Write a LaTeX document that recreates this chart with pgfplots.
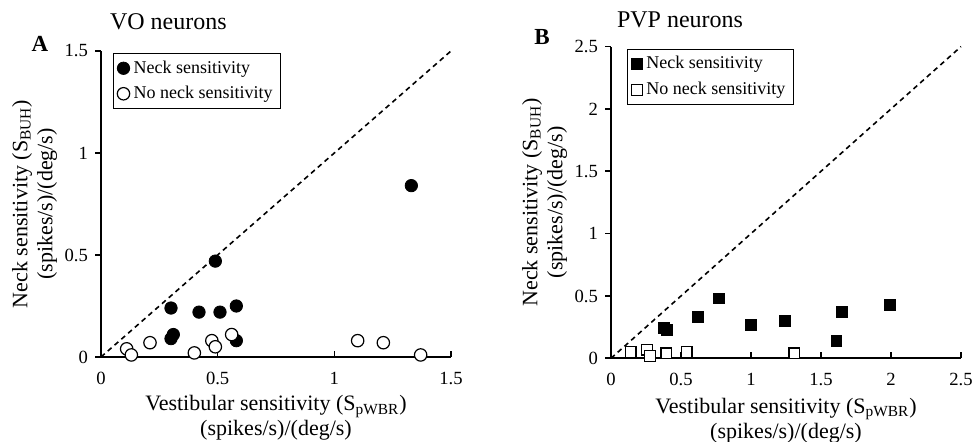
\documentclass[border=0pt]{standalone}
\usepackage{pgfplots}
\pgfplotsset{compat=1.18}
\usepackage{fontspec}
\setmainfont{Liberation Serif}
\begin{document}
\begin{tikzpicture}
\path[use as bounding box] (0,0) rectangle (487.5pt,221pt);
\pgfplotsset{
  myaxis/.style={
    scale only axis,
    axis x line*=bottom, axis y line*=left,
    axis line style={-, line width=1pt},
    tick align=outside,
    major tick length=3pt,
    tick style={black, line width=0.8pt},
    xtick style={yshift=3pt},
    /pgf/number format/assume math mode=true,
    ticklabel style={font=\fontsize{9.3}{9.3}\selectfont},
    xticklabel style={yshift=-1pt},
    clip=false,
    xlabel style={align=center, font=\fontsize{11}{12.5}\selectfont, at={(axis description cs:0.5,-0.2)}, anchor=center},
    ylabel style={align=center, font=\fontsize{11}{12.5}\selectfont, at={(axis description cs:-0.19,0.5)}, anchor=center},
    xlabel={Vestibular sensitivity (S\textsubscript{pWBR})\\(spikes/s)/(deg/s)},
    ylabel={Neck sensitivity (S\textsubscript{BUH})\\(spikes/s)/(deg/s)},
    legend style={font=\fontsize{9}{9}\selectfont, draw=black, line width=0.4pt, inner xsep=2pt, inner ysep=1.5pt, row sep=1pt, legend cell align=left},
    legend cell align=left,
  }
}
% Panel A
\begin{axis}[myaxis,
  at={(50.5pt,42.5pt)}, anchor=south west,
  width=175pt, height=153pt,
  xmin=0, xmax=1.5, ymin=0, ymax=1.5,
  xtick={0,0.5,1,1.5}, ytick={0,0.5,1,1.5},
  legend style={at={(axis description cs:0.034,0.993)}, anchor=north west},
]
\addplot[black, dash pattern=on 2.5pt off 2pt, line width=0.8pt, forget plot] coordinates {(0,0) (1.5,1.5)};
\addplot[only marks, mark=*, mark size=3.1pt, mark options={fill=black, draw=black}] coordinates {
(1.33,0.84) (0.49,0.47) (0.30,0.24) (0.42,0.22) (0.51,0.22) (0.58,0.25)
(0.30,0.09) (0.31,0.11) (0.58,0.08)
};
\addlegendentry{Neck sensitivity}
\addplot[only marks, mark=*, mark size=3.1pt, mark options={fill=white, draw=black, line width=0.6pt}] coordinates {
(0.11,0.04) (0.13,0.01) (0.21,0.07) (0.40,0.02) (0.475,0.08) (0.49,0.05)
(0.56,0.11) (1.10,0.08) (1.21,0.07) (1.37,0.01)
};
\addlegendentry{No neck sensitivity}
\end{axis}
% Panel B
\begin{axis}[myaxis,
  at={(305.5pt,41.85pt)}, anchor=south west,
  width=175pt, height=155.85pt,
  xmin=0, xmax=2.5, ymin=0, ymax=2.5,
  xtick={0,0.5,1,1.5,2,2.5}, ytick={0,0.5,1,1.5,2,2.5},
  legend style={at={(axis description cs:0.046,0.992)}, anchor=north west},
]
\addplot[black, dash pattern=on 2.5pt off 2pt, line width=0.8pt, forget plot] coordinates {(0,0) (2.5,2.5)};
\addplot[only marks, mark=square*, mark size=2.7pt, mark options={fill=black, draw=black}] coordinates {
(0.77,0.48) (0.62,0.33) (0.38,0.245) (0.40,0.23) (1.00,0.27) (1.24,0.30)
(1.61,0.14) (1.65,0.37) (1.99,0.43)
};
\addlegendentry{Neck sensitivity}
\addplot[only marks, mark=square*, mark size=2.7pt, mark options={fill=white, draw=black, line width=0.6pt}] coordinates {
(0.14,0.05) (0.255,0.07) (0.28,0.02) (0.395,0.04) (0.54,0.05) (1.31,0.04)
};
\addlegendentry{No neck sensitivity}
\end{axis}
\node[anchor=west, font=\fontsize{12}{12}\selectfont] at (51.5pt,210pt) {VO neurons};
\node[anchor=west, font=\fontsize{12}{12}\selectfont] at (305pt,211.25pt) {PVP neurons};
\node[font=\fontsize{11.5}{11.5}\selectfont\bfseries] at (20pt,199pt) {A};
\node[font=\fontsize{11.5}{11.5}\selectfont\bfseries] at (271pt,202.5pt) {B};
\end{tikzpicture}
\end{document}
